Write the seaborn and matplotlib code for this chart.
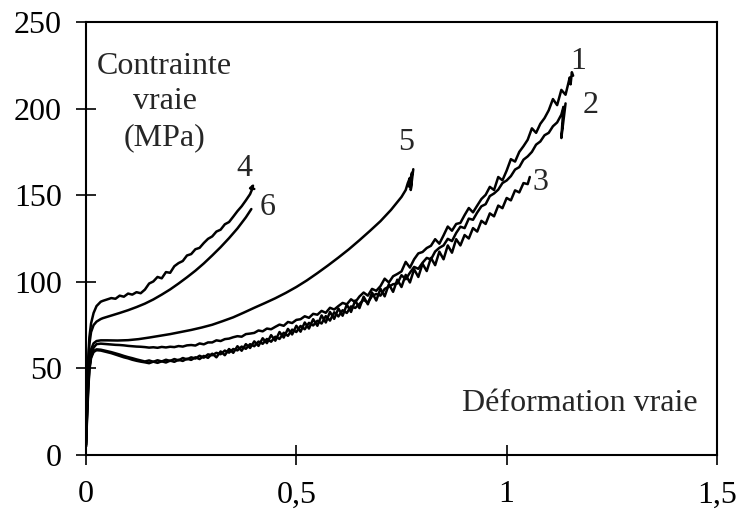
import numpy as np
import pandas as pd
import matplotlib
matplotlib.use("Agg")
import matplotlib.pyplot as plt
import seaborn as sns

# style proche du graphique d'origine (police type Times, cadre noir)
sns.set_style("ticks")
plt.rcParams['font.family'] = ['Liberation Serif', 'DejaVu Serif']

## ---------------------------
## DONNEES
## ---------------------------

# debut commun (partie elastique) des courbes bruitees
tete_x = [0, 0.002, 0.005, 0.008, 0.012, 0.018, 0.025, 0.035]

# courbe 1 : tete puis releve tous les 0,01 a partir de 0,05
c1_tete_y = [6, 20, 38, 50, 57, 62, 64, 64.3]
c1_pas_y = [64.0, 63.8, 63.6, 63.5, 63.3,
            63.0, 62.8, 62.6, 62.5, 62.3, 62.0, 62.2, 61.9, 62.4, 62.1,
            62.5, 62.3, 62.9, 62.6, 63.3, 63.5, 63.2, 64.4, 63.9, 65.0,
            65.0, 66.2, 65.8, 66.9, 67.2, 68.0, 68.6, 68.3, 69.8, 70.1,
            70.5, 71.9, 71.4, 73.0, 72.6, 74.0, 75.3, 74.6, 76.8, 76.2,
            78.0, 78.4, 80.1, 79.2, 81.5, 81.0, 83.2, 82.1, 85.0, 84.0,
            86.0, 87.8, 87.0, 89.9, 88.2, 91.5, 93.8, 92.0, 95.9, 94.8,
            97.5, 101.8, 99.6, 103.2, 104.5, 106.0, 111.5, 108.2, 113.0, 116.4,
            117.2, 119.5, 120.8, 124.6, 122.0, 126.8, 131.9, 129.5, 133.4, 134.0,
            138.5, 142.6, 140.1, 144.0, 147.8, 150.2, 154.8, 153.0, 160.5, 158.6,
            164.2, 170.8, 169.4, 175.0, 178.3, 182.0, 188.6, 186.0, 191.2, 194.5,
            199.0, 205.5, 202.0, 210.8, 208.0, 218.0]
c1_fin_x = [1.152, 1.155, 1.158]
c1_fin_y = [214.0, 221.0, 219.0]

# courbe 2 : releve tous les 0,01 a partir de 0,06
c2_tete_y = [8, 22, 40, 51, 57, 60, 61, 60.8]
c2_pas_y = [59.4, 58.7, 58.0, 57.2,
            56.5, 55.9, 55.2, 54.6, 54.0, 54.6, 53.8, 54.7, 54.0, 55.0,
            54.3, 55.4, 54.6, 56.0, 55.2, 56.4, 55.7, 57.3, 56.2, 58.1,
            57.6, 59.0, 58.2, 60.3, 59.1, 61.2, 60.4, 62.6, 61.3, 64.0,
            62.8, 65.5, 64.2, 67.0, 65.4, 68.3, 67.0, 70.6, 68.8, 72.4,
            71.0, 74.5, 72.6, 76.3, 74.8, 77.5, 75.9, 80.2, 77.6, 82.4,
            80.0, 83.6, 82.0, 85.8, 84.9, 87.2, 89.6, 88.0, 91.8, 93.0,
            92.0, 95.9, 97.2, 98.6, 99.0, 103.8, 101.5, 105.2, 108.6, 107.5,
            111.0, 113.8, 112.9, 117.5, 119.6, 121.0, 124.8, 123.5, 128.2, 131.8,
            131.0, 136.5, 135.8, 140.0, 143.6, 144.8, 149.5, 151.0, 153.2, 157.0,
            158.5, 161.0, 164.8, 166.2, 170.5, 172.4, 175.0, 179.2, 181.0, 184.6,
            186.0, 189.8, 192.0, 196.5]
c2_fin_x = [1.135, 1.13, 1.138, 1.14]
c2_fin_y = [201.0, 183.0, 199.0, 203.0]

# courbe 3 : releve tous les 0,01 a partir de 0,06
c3_tete_y = [5, 18, 36, 49, 56, 59.5, 60.5, 60.3]
c3_pas_y = [58.8, 58.0, 57.2, 56.4,
            55.8, 55.0, 54.4, 53.9, 53.5, 53.0, 53.9, 53.2, 54.1, 53.4,
            54.5, 53.8, 55.0, 54.3, 55.6, 54.9, 56.4, 55.4, 57.2, 56.1,
            58.5, 56.4, 59.8, 57.6, 61.2, 59.0, 62.8, 60.2, 64.0, 61.8,
            65.6, 63.0, 67.4, 64.6, 69.2, 66.0, 71.0, 67.8, 72.8, 69.6,
            74.6, 71.2, 76.5, 73.0, 78.4, 74.6, 80.6, 76.5, 82.6, 78.6,
            84.6, 80.4, 86.8, 82.6, 89.2, 84.8, 91.4, 87.0, 93.8, 89.2,
            96.0, 91.6, 98.6, 94.2, 101.2, 97.0, 104.0, 99.6, 107.2, 102.8,
            110.4, 106.2, 113.8, 109.6, 117.4, 113.0, 121.0, 116.8, 124.6, 121.0,
            127.0, 125.0, 131.0, 129.0, 135.2, 133.4, 139.5, 137.8, 144.0, 142.5,
            148.4, 147.0, 152.8, 151.6, 157.0, 156.4]
c3_fin_x = [1.055]
c3_fin_y = [160.5]

# courbe 4 (bruit faible)
c4_x = [0, 0.002, 0.005, 0.008, 0.012, 0.018, 0.025, 0.035,
        0.04, 0.05, 0.06, 0.07, 0.08, 0.09, 0.10, 0.11, 0.12, 0.13, 0.14,
        0.15, 0.16, 0.17, 0.18, 0.19, 0.20, 0.21, 0.22, 0.23, 0.24, 0.25,
        0.26, 0.27, 0.28, 0.29, 0.30, 0.31, 0.32, 0.33, 0.34, 0.35, 0.36,
        0.37, 0.38, 0.39, 0.395, 0.397, 0.39, 0.40]
c4_y = [6, 30, 55, 68, 76, 82, 86, 88.5,
        89.0, 89.8, 90.6, 90.2, 92.0, 91.4, 93.2, 92.6, 94.0, 93.4, 95.5,
        99.0, 100.2, 102.8, 102.0, 105.6, 105.2, 109.0, 110.8, 112.0, 115.2, 116.0,
        118.8, 119.6, 122.4, 124.8, 126.2, 129.0, 130.1, 133.2, 134.5, 137.6, 140.8,
        143.6, 147.0, 150.6, 153.5, 155.5, 154.0, 153.6]

# courbe 5 (lisse)
c5_x = [0, 0.002, 0.005, 0.008, 0.012, 0.018, 0.025, 0.035,
        0.05, 0.075, 0.1, 0.125, 0.15, 0.175, 0.2, 0.225, 0.25, 0.275, 0.3,
        0.325, 0.35, 0.375, 0.4, 0.425, 0.45, 0.475, 0.5, 0.525, 0.55, 0.575,
        0.6, 0.625, 0.65, 0.675, 0.7, 0.725, 0.75, 0.76, 0.765, 0.77, 0.768,
        0.775, 0.772, 0.778]
c5_y = [7, 24, 44, 55, 61, 64.5, 65.8, 66.2,
        66.2, 66.1, 66.3, 66.9, 67.8, 68.8, 69.8, 71.0, 72.2, 73.6, 75.2,
        77.3, 79.5, 82.2, 85.0, 87.7, 90.5, 93.6, 97.0, 100.8, 105.0, 109.4,
        114.0, 118.8, 124.0, 129.4, 135.0, 141.5, 149.0, 153.0, 157.0, 160.0, 155.0,
        163.0, 153.0, 165.0]

# courbe 6 (lisse)
c6_x = [0, 0.002, 0.005, 0.008, 0.012, 0.018, 0.025, 0.035,
        0.04, 0.06, 0.08, 0.1, 0.12, 0.14, 0.16, 0.18, 0.2, 0.22, 0.24,
        0.26, 0.28, 0.3, 0.32, 0.34, 0.36, 0.38, 0.393]
c6_y = [5, 28, 52, 64, 71, 75, 77, 78.5,
        79.0, 80.5, 82.0, 83.6, 85.4, 87.4, 89.8, 92.6, 95.6, 99.0, 102.6,
        106.4, 110.6, 115.2, 120.0, 125.2, 130.8, 137.2, 142.0]

# numeros des essais et position des etiquettes
etiquettes = ['1', '2', '3', '4', '5', '6']
etiq_x = [1.169, 1.20, 1.081, 0.376, 0.762, 0.431]
etiq_y = [227, 202, 157.5, 165.5, 180.5, 143]

x_ticks = [0, 0.5, 1, 1.5]
x_ticklabels = ['0', '0,5', '1', '1,5']
y_ticks = [0, 50, 100, 150, 200, 250]


def courbe_bruitee(tete_y, depart, pas_y, fin_x, fin_y):
    """Assemble la tete, le releve regulier et la fin d'une courbe"""
    grille = list(np.round(depart + 0.01 * np.arange(len(pas_y)), 3))
    xs = tete_x + grille + fin_x
    ys = tete_y + pas_y + fin_y
    return pd.DataFrame({'def': xs, 'contrainte': ys})


courbes = [
    courbe_bruitee(c1_tete_y, 0.05, c1_pas_y, c1_fin_x, c1_fin_y),
    courbe_bruitee(c2_tete_y, 0.06, c2_pas_y, c2_fin_x, c2_fin_y),
    courbe_bruitee(c3_tete_y, 0.06, c3_pas_y, c3_fin_x, c3_fin_y),
    pd.DataFrame({'def': c4_x, 'contrainte': c4_y}),
    pd.DataFrame({'def': c5_x, 'contrainte': c5_y}),
    pd.DataFrame({'def': c6_x, 'contrainte': c6_y}),
]

## ---------------------------
## FIGURE
## ---------------------------

fig = plt.figure(figsize=(7.39, 5.15), dpi=100)
ax = fig.add_axes([0.1164, 0.1165, 0.9702 - 0.1164, 0.9573 - 0.1165])

for df in courbes:
    sns.lineplot(data=df, x='def', y='contrainte', sort=False, estimator=None,
                 color='black', linewidth=1.8, ax=ax)

for txt, tx, ty in zip(etiquettes, etiq_x, etiq_y):
    ax.text(tx, ty, txt, fontsize=23, ha='center', va='center')

ax.text(0.187, 204, "Contrainte\nvraie\n(MPa)", fontsize=23, ha='center',
        va='center', linespacing=1.3)
ax.text(1.453, 29.5, "Déformation vraie", fontsize=23, ha='right', va='center')

ax.set_xlim(0, 1.5)
ax.set_ylim(0, 250)
ax.set_xticks(x_ticks)
ax.set_xticklabels(x_ticklabels)
ax.set_yticks(y_ticks)
ax.set_xlabel('')
ax.set_ylabel('')

for sp in ax.spines.values():
    sp.set_visible(True)
    sp.set_linewidth(1.5)
    sp.set_color('black')

ax.tick_params(axis='both', direction='inout', length=14.5, width=1.2,
               labelsize=23, colors='black')
ax.tick_params(axis='x', pad=11)
ax.tick_params(axis='y', pad=10)

fig.savefig('out.png', dpi=100)
